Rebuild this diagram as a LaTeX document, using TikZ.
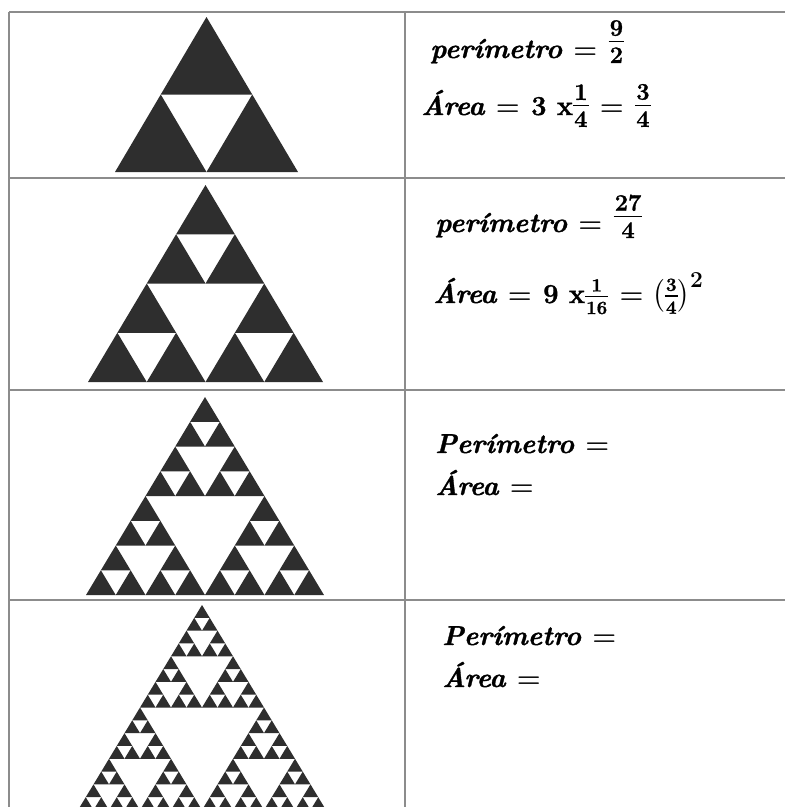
\documentclass[tikz,border=0pt]{standalone}
\usepackage{amsmath}
\usepackage{fontspec}
\newfontfamily\heavyfont{Latin Modern Roman}[BoldFeatures={FakeBold=1.2},BoldItalicFeatures={FakeBold=1.2}]
\definecolor{tricol}{HTML}{2E2E2E}
\definecolor{linecol}{HTML}{8C8C8C}
\newcommand\sierpfill[1]{%
  \ifnum#1<1
    \fill[tri] (0,0) -- (1,0) -- (0.5,1) -- cycle;
  \else
    \begin{scope}[scale=0.5]\sierpfill{\numexpr#1-1\relax}\end{scope}%
    \begin{scope}[shift={(0.5,0)},scale=0.5]\sierpfill{\numexpr#1-1\relax}\end{scope}%
    \begin{scope}[shift={(0.25,0.5)},scale=0.5]\sierpfill{\numexpr#1-1\relax}\end{scope}%
  \fi}
% #1 raise, #2 font size, #3 gap, #4 numerator, #5 denominator
\newcommand\fr[5]{%
  \raisebox{#1}{\fontsize{#2}{#2}\selectfont\upshape\bfseries
    \setbox0\hbox{#4}\setbox2\hbox{#5}%
    \dimen0=\ifdim\wd0>\wd2 \wd0 \else \wd2 \fi
    \advance\dimen0 by 2pt
    \vbox{\offinterlineskip
      \hbox to\dimen0{\hfil\box0\hfil}\kern#3
      \hrule height1.4pt\kern#3
      \hbox to\dimen0{\hfil\box2\hfil}}}}
\begin{document}
\begin{tikzpicture}[x=1pt,y=-1pt,
  tri/.style={fill=tricol},
  rule/.style={draw=linecol,line width=1.8pt},
  txt/.style={inner sep=0pt,anchor=base west,scale=1.1,transform shape,
    font=\heavyfont\fontsize{24.88}{30}\selectfont\bfseries\itshape\boldmath}]
\useasboundingbox (0,0) rectangle (785,807);
\fill[white] (0,0) rectangle (785,807);
% table rules
\draw[rule] (9,12) -- (785,12);
\draw[rule] (9,178) -- (785,178);
\draw[rule] (9,390) -- (785,390);
\draw[rule] (9,600) -- (785,600);
\draw[rule] (9,12) -- (9,807);
\draw[rule] (405,12) -- (405,807);
% Sierpinski triangles
\begin{scope}[shift={(115,172)},xscale=183,yscale=-155]\sierpfill{1}\end{scope}
\begin{scope}[shift={(88,382)},xscale=235,yscale=-197]\sierpfill{2}\end{scope}
\begin{scope}[shift={(86,595)},xscale=238,yscale=-198]\sierpfill{3}\end{scope}
\begin{scope}
\clip (0,0) rectangle (785,807);
\begin{scope}[shift={(78,810)},xscale=248,yscale=-205]\sierpfill{4}\end{scope}
\end{scope}
% texts
\node[txt] (p1) at (430,58) {perímetro $=$ \fr{-4.5pt}{21.5}{4.5pt}{9}{2}};
\node[txt] (a1) at (421,115) {Área $=$ \textup{3 x}\fr{-10.8pt}{21.5}{4.5pt}{1}{4} $=$ \fr{-10.8pt}{21.5}{4.5pt}{3}{4}};
\node[txt] (p2) at (435,232) {perímetro $=$ \fr{-5.4pt}{21.5}{4.5pt}{27}{4}};
\node[txt] (a2) at (433,303) {Área $=$ \textup{9 x}\fr{-10pt}{17}{4pt}{1}{16} $=\left(\vcenter{\hbox{\fr{0pt}{17}{4pt}{3}{4}}}\right)^{\mathbf{2}}$};
\node[txt] (p3) at (435,453) {Perímetro $=$};
\node[txt] (a3) at (435,495) {Área $=$};
\node[txt] (p4) at (442,645) {Perímetro $=$};
\node[txt] (a4) at (442,687) {Área $=$};
\end{tikzpicture}
\end{document}
